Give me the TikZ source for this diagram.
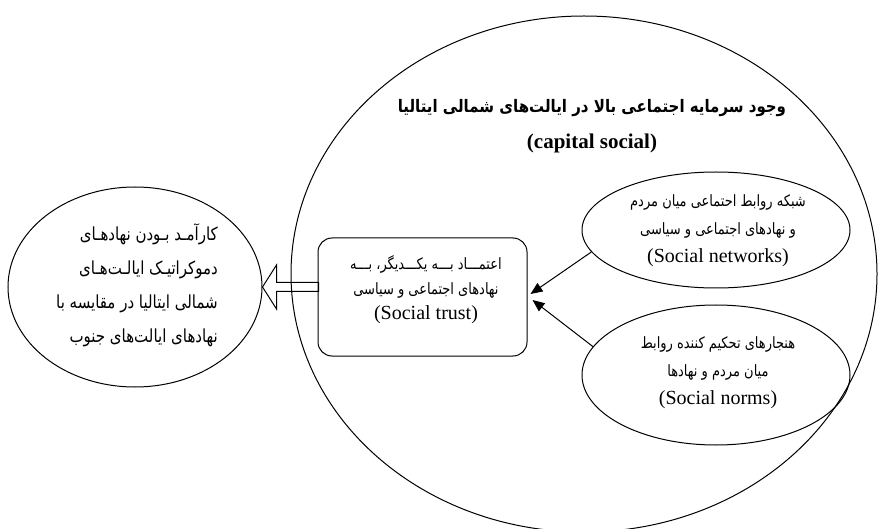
\documentclass[tikz,border=0pt]{standalone}
\usepackage{graphicx}
\usepackage{fontspec}
\setmainfont{Liberation Serif}
\newfontfamily\fa[Script=Arabic]{DejaVu Sans}
\TeXXeTstate=1
\usetikzlibrary{shapes.geometric,arrows.meta}
\begin{document}
\begin{tikzpicture}[x=1pt,y=-1pt,line width=1pt,
  oval/.style={draw,ellipse,inner sep=0pt},
  txt/.style={inner sep=0pt,align=center},
  conn/.style={-{Triangle[length=12pt,width=10pt]}},
  hollow/.style={line width=1pt,line join=miter}]
\fill[white] (0,0) rectangle (878,529);
\useasboundingbox (0,0) rectangle (878,529);
% big ellipse
\node[oval,minimum width=586pt,minimum height=516pt] (big) at (584,274) {};
\node (title1) at (592,108) {\scalebox{1}[1.15]{\fa\bfseries\fontsize{15}{18}\selectfont\beginR وجود سرمایه اجتماعی بالا در ایالت‌های شمالی ایتالیا\endR}};
\node (title2) at (592,143) {\bfseries\fontsize{21}{24}\selectfont (capital social)};
% left ellipse
\node[oval,minimum width=254pt,minimum height=200pt] (left) at (135,287) {};
\node[txt,align=right,font=\fontsize{15}{34}\selectfont] (lefttxt) at (137,285)
  {\scalebox{1}[1.2]{\fa\beginR کارآمـد بـودن نهادهـای\endR}\\
   \scalebox{1}[1.2]{\fa\beginR دموکراتیـک ایالـت‌هـای\endR}\\
   \scalebox{1}[1.2]{\fa\beginR شمالی ایتالیا در مقایسه با\endR}\\
   \scalebox{1}[1.2]{\fa\beginR نهادهای ایالت‌های جنوب\endR}};
% trust rectangle
\node[draw,rounded corners=14pt,minimum width=209pt,minimum height=118pt,inner sep=0pt] (trust) at (422.5,297) {};
\node[txt,font=\fontsize{13}{25}\selectfont] (trusttxt) at (426,290)
  {\scalebox{1}[1.2]{\fa\beginR اعتمـــاد بـــه یکـــدیگر، بـــه\endR}\\
   \scalebox{1}[1.2]{\fa\beginR نهادهای اجتماعی و سیاسی\endR}\\
   \fontsize{20}{25}\selectfont (Social trust)};
% networks
\node[oval,minimum width=268pt,minimum height=116pt] (net) at (716,230) {};
\node[txt,font=\fontsize{13}{28}\selectfont] (nettxt) at (718,231)
  {\scalebox{1}[1.2]{\fa\beginR شبکه روابط احتماعی میان مردم\endR}\\
   \scalebox{1}[1.2]{\fa\beginR و نهادهای اجتماعی و سیاسی\endR}\\
   \fontsize{20}{28}\selectfont (Social networks)};
% norms
\node[oval,minimum width=268pt,minimum height=140pt] (norms) at (716,375) {};
\node[txt,font=\fontsize{13}{28}\selectfont] (normstxt) at (718,373)
  {\scalebox{1}[1.2]{\fa\beginR هنجارهای تحکیم کننده روابط\endR}\\
   \scalebox{1}[1.2]{\fa\beginR میان مردم و نهادها\endR}\\
   \fontsize{20}{28}\selectfont (Social norms)};
% connectors
\draw[conn] (net.190) -- ([xshift=3pt,yshift=3pt]trust.east);
\draw[conn] (norms.167) -- ([xshift=5pt,yshift=-3pt]trust.east);
\draw[hollow] (left.east) -- ++(14,-22) -- ++(0,17.5) -- ++(42,0) -- ++(0,9) -- ++(-42,0) -- ++(0,17.5) -- cycle;
\end{tikzpicture}
\end{document}
